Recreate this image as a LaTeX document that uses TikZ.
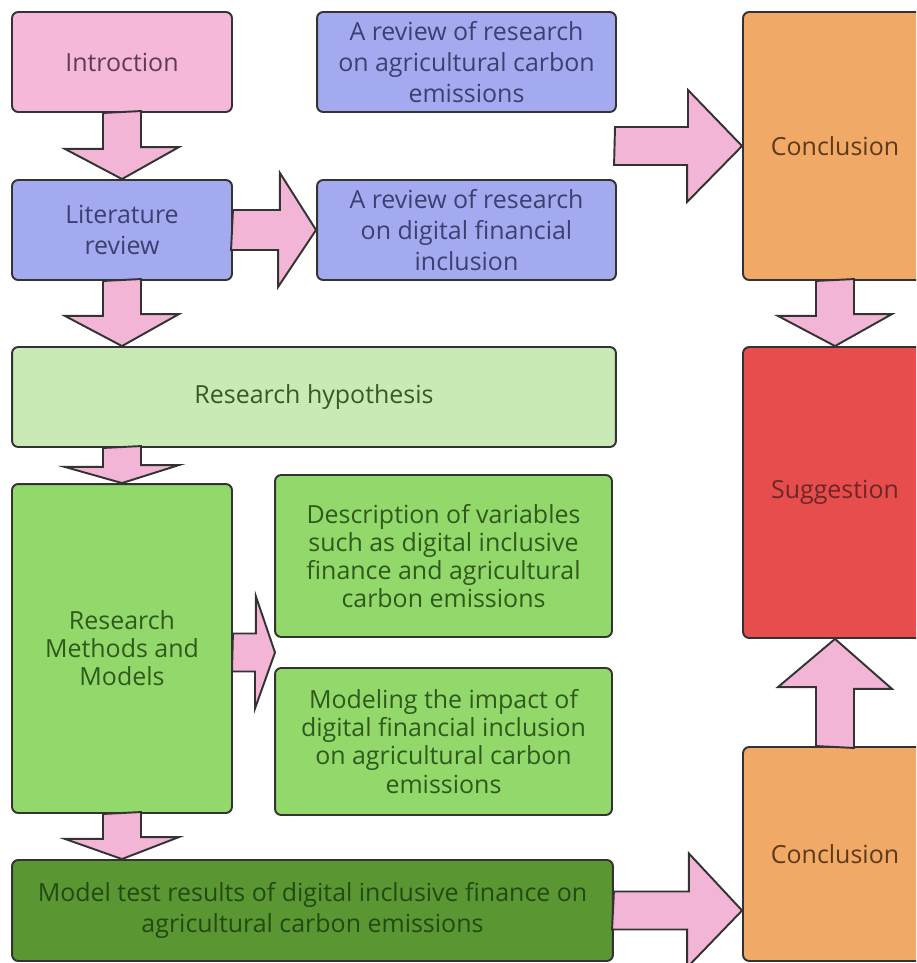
\documentclass[tikz,border=0pt]{standalone}
\usepackage{fontspec}
\setmainfont{Open Sans}
\usepackage{tikz}

\begin{document}
\begin{tikzpicture}[x=0.02cm,y=-0.02cm,
  box/.style={draw=boxline,line width=1.1pt,rounded corners=3.5pt,inner sep=0pt,align=center,font=\fontsize{14.2}{17.6}\selectfont},
  tight/.style={font=\fontsize{14.2}{16}\selectfont},
  fat/.style={fill=arrowpink,draw=boxline,line width=1.1pt,line join=miter}]
\definecolor{boxline}{HTML}{333333}
\definecolor{arrowpink}{HTML}{F3B5D6}
\definecolor{pinkfill}{HTML}{F5B8D8}
\definecolor{pinktext}{HTML}{5C3C55}
\definecolor{bluefill}{HTML}{A4AAEF}
\definecolor{bluetext}{HTML}{3C4070}
\definecolor{hypfill}{HTML}{C9EAB5}
\definecolor{hyptext}{HTML}{355A2A}
\definecolor{greenfill}{HTML}{93D86B}
\definecolor{greentext}{HTML}{2E5A1C}
\definecolor{darkgreen}{HTML}{5A9632}
\definecolor{darkgreentext}{HTML}{234A12}
\definecolor{orangefill}{HTML}{F0A966}
\definecolor{orangetext}{HTML}{5E3A1A}
\definecolor{redfill}{HTML}{E84D4D}
\definecolor{redtext}{HTML}{6E2626}
\useasboundingbox (0,0) rectangle (916,963);
\clip (0,0) rectangle (916,963);

% left column
\node[box,fill=pinkfill,text=pinktext,minimum width=4.4cm,minimum height=2cm] (intro) at (122,62) {Introction};
\node[box,fill=bluefill,text=bluetext,minimum width=4.4cm,minimum height=2cm] (lit) at (122,230) {Literature\\review};
\node[box,fill=bluefill,text=bluetext,minimum width=5.98cm,minimum height=2cm] (revcarbon) at (466.5,62) {A review of research\\on agricultural carbon\\emissions};
\node[box,fill=bluefill,text=bluetext,minimum width=5.98cm,minimum height=2cm] (revfin) at (466.5,230) {A review of research\\on digital financial\\inclusion};
\node[box,fill=hypfill,text=hyptext,minimum width=12.08cm,minimum height=2cm] (hyp) at (314,397) {Research hypothesis};
\node[box,tight,fill=greenfill,text=greentext,minimum width=4.4cm,minimum height=6.58cm] (methods) at (122,648.5) {Research\\Methods and\\Models};
\node[box,tight,fill=greenfill,text=greentext,minimum width=6.74cm,minimum height=3.24cm] (desc) at (443.5,556) {Description of variables\\such as digital inclusive\\finance and agricultural\\carbon emissions};
\node[box,tight,fill=greenfill,text=greentext,minimum width=6.74cm,minimum height=2.94cm] (model) at (443.5,741.5) {Modeling the impact of\\digital financial inclusion\\on agricultural carbon\\emissions};
\node[box,fill=darkgreen,text=darkgreentext,minimum width=12.02cm,minimum height=2.02cm] (test) at (312.5,910.5) {Model test results of digital inclusive finance on\\agricultural carbon emissions};

% right column
\node[box,fill=orangefill,text=orangetext,minimum width=3.68cm,minimum height=5.36cm] (concA) at (835,146) {Conclusion};
\node[box,fill=redfill,text=redtext,minimum width=3.68cm,minimum height=5.82cm] (sugg) at (835,492.5) {Suggestion};
\node[box,fill=orangefill,text=orangetext,minimum width=3.68cm,minimum height=4.28cm] (concB) at (835,854) {Conclusion};

\coordinate (split) at (275,652.5);
\coordinate (feed) at (615,146);

% block arrows down
\draw[fat] (intro.south) ++(-19,0) -- ++(0,36) -- ++(-38,0) -- (lit.north) -- ++(57,-32) -- ++(-38,0) -- ++(0,-36) -- cycle;
\draw[fat] (lit.south) ++(-19,0) -- ++(0,35) -- ++(-38,0) -- (lit.south |- hyp.north) -- ++(57,-32) -- ++(-38,0) -- ++(0,-35) -- cycle;
\draw[fat] (methods.north |- hyp.south) ++(-19,0) -- ++(0,19) -- ++(-38,0) -- (methods.north) -- ++(57,-18) -- ++(-38,0) -- ++(0,-19) -- cycle;
\draw[fat] (methods.south) ++(-19,0) -- ++(0,25) -- ++(-38,0) -- (methods.south |- test.north) -- ++(57,-22) -- ++(-38,0) -- ++(0,-25) -- cycle;
\draw[fat] (concA.south) ++(-19,0) -- ++(0,35) -- ++(-38,0) -- (sugg.north) -- ++(57,-32) -- ++(-38,0) -- ++(0,-35) -- cycle;
% block arrow up
\draw[fat] (concB.north) ++(-19,0) -- ++(0,-59) -- ++(-38,0) -- (sugg.south) -- ++(57,50) -- ++(-38,0) -- ++(0,59) -- cycle;

% block arrows right
\draw[fat] (lit.east) ++(0,-20) -- ++(47,0) -- ++(0,-37) -- (revfin.west) -- ++(-38,57) -- ++(0,-37) -- ++(-47,0) -- cycle;
\draw[fat] (methods.east |- split) ++(0,-19) -- ++(23,0) -- ++(0,-37) -- (split) -- ++(-20,56) -- ++(0,-37) -- ++(-23,0) -- cycle;
\draw[fat] (feed) ++(0,-19) -- ++(73,0) -- ++(0,-37) -- (concA.west) -- ++(-55,56) -- ++(0,-37) -- ++(-73,0) -- cycle;
\draw[fat] (test.east) ++(0,-19) -- ++(75,0) -- ++(0,-38) -- (test.east -| concB.west) -- ++(-55,57) -- ++(0,-38) -- ++(-75,0) -- cycle;
\end{tikzpicture}
\end{document}
